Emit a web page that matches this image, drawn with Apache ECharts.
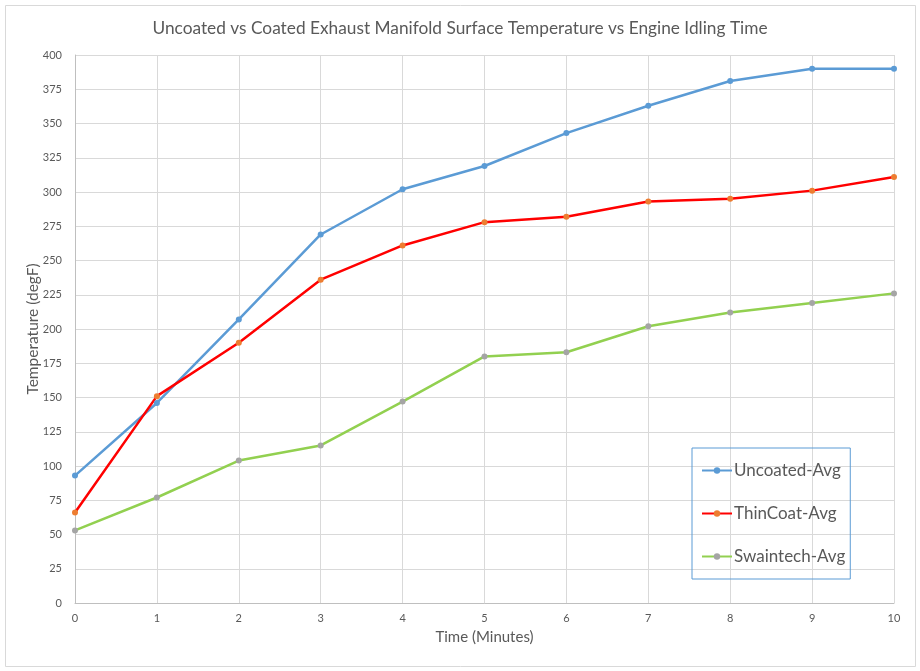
<!DOCTYPE html>
<html>
<head>
<meta charset="utf-8">
<script src="https://cdn.jsdelivr.net/npm/echarts@6/dist/echarts.min.js"></script>
<style>
  html, body { margin: 0; padding: 0; background: #fff; }
  #chart { width: 920px; height: 671px; }
</style>
</head>
<body>
<div id="chart"></div>
<script>
// data
var minutes = ["0", "1", "2", "3", "4", "5", "6", "7", "8", "9", "10"];
var uncoatedAvg = [93, 146, 207, 269, 302, 319, 343, 363, 381, 390, 390];
var thinCoatAvg = [66, 151, 190, 236, 261, 278, 282, 293, 295, 301, 311];
var swaintechAvg = [53, 77, 104, 115, 147, 180, 183, 202, 212, 219, 226];

var myChart = echarts.init(document.getElementById("chart"));
var font = "Lato, 'Open Sans', sans-serif";

var option = {
  backgroundColor: "#fff",
  animation: false,
  textStyle: { fontFamily: font },
  title: {
    text: "Uncoated vs Coated Exhaust Manifold Surface Temperature vs Engine Idling Time",
    left: "center",
    top: 15,
    textStyle: { color: "#595959", fontSize: 17.3, fontWeight: "normal", fontFamily: font },
  },
  graphic: [
    {
      type: "rect",
      shape: { x: 5.5, y: 5.5, width: 910, height: 661 },
      style: { fill: "none", stroke: "#d9d9d9", lineWidth: 1 },
      silent: true,
      z: -1,
    },
  ],
  grid: { left: 75, right: 26, top: 55, bottom: 68 },
  legend: {
    orient: "vertical",
    left: 692,
    top: 448,
    padding: [14, 5, 14, 9],
    itemGap: 26,
    itemWidth: 30,
    itemHeight: 8,
    borderColor: "#5b9bd5",
    borderWidth: 1,
    textStyle: { color: "#595959", fontSize: 17, fontFamily: font, padding: [0, 0, 0, -3] },
    data: ["Uncoated-Avg", "ThinCoat-Avg", "Swaintech-Avg"],
  },
  xAxis: {
    type: "category",
    data: minutes,
    boundaryGap: false,
    name: "Time (Minutes)",
    nameLocation: "middle",
    nameGap: 27,
    nameMoveOverlap: false,
    nameTextStyle: { color: "#595959", fontSize: 15 },
    axisLine: { show: true, lineStyle: { color: "#bfbfbf" } },
    axisTick: { show: false },
    axisLabel: { color: "#595959", fontSize: 11, margin: 10 },
    splitLine: { show: true, lineStyle: { color: "#d9d9d9" } },
  },
  yAxis: {
    type: "value",
    min: 0,
    max: 400,
    interval: 25,
    name: "Temperature (degF)",
    nameLocation: "middle",
    nameGap: 34,
    nameMoveOverlap: false,
    nameTextStyle: { color: "#595959", fontSize: 15.5 },
    axisLine: { show: true, lineStyle: { color: "#bfbfbf" } },
    axisTick: { show: false },
    axisLabel: { color: "#595959", fontSize: 11, margin: 13 },
    splitLine: { show: true, lineStyle: { color: "#d9d9d9" } },
  },
  series: [
    {
      name: "Uncoated-Avg",
      type: "line",
      data: uncoatedAvg,
      symbol: "circle",
      symbolSize: 6,
      lineStyle: { color: "#5b9bd5", width: 2.5 },
      itemStyle: { color: "#5b9bd5" },
    },
    {
      name: "ThinCoat-Avg",
      type: "line",
      data: thinCoatAvg,
      symbol: "circle",
      symbolSize: 6,
      lineStyle: { color: "#ff0000", width: 2.5 },
      itemStyle: { color: "#ed7d31" },
    },
    {
      name: "Swaintech-Avg",
      type: "line",
      data: swaintechAvg,
      symbol: "circle",
      symbolSize: 6,
      lineStyle: { color: "#92d050", width: 2.5 },
      itemStyle: { color: "#a5a5a5" },
    },
  ],
};

myChart.setOption(option);
window.addEventListener("resize", () => {
  myChart.resize();
});
</script>
</body>
</html>
